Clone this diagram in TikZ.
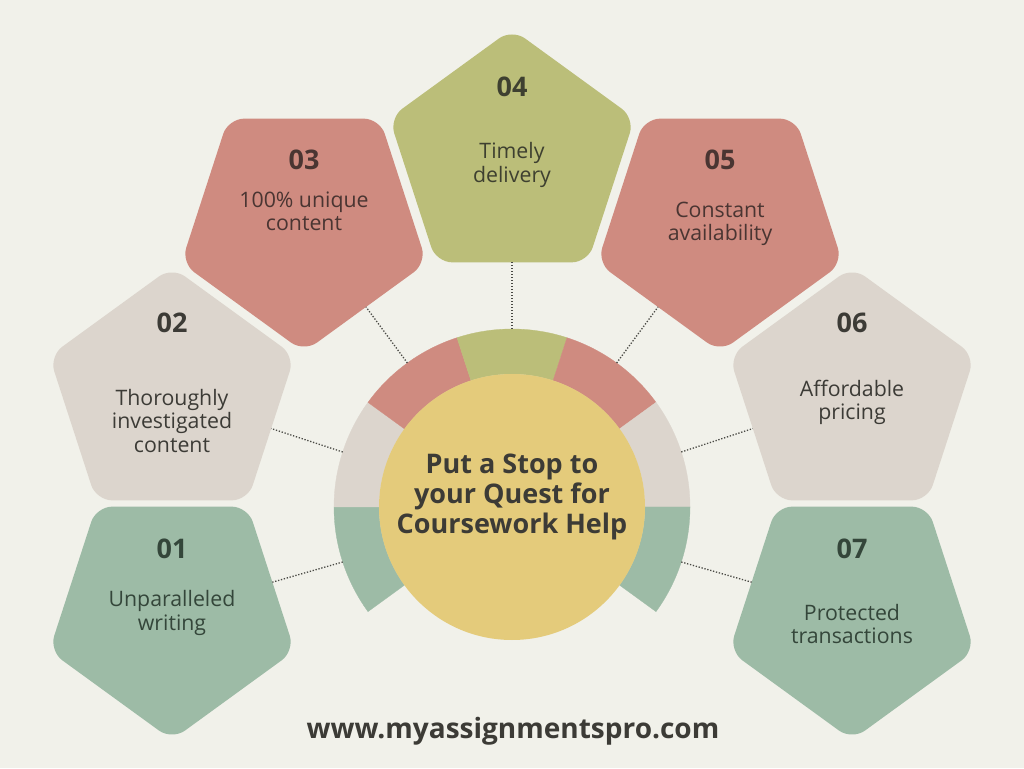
\documentclass[tikz,border=0pt]{standalone}
\usepackage{fontspec}
\setmainfont{Open Sans}
\usetikzlibrary{shapes.geometric,calc}
\definecolor{bg}{HTML}{F1F1EA}
\definecolor{sage}{HTML}{9DBBA6}
\definecolor{beige}{HTML}{DCD5CD}
\definecolor{salmon}{HTML}{CF8B80}
\definecolor{olive}{HTML}{BBBE79}
\definecolor{ylw}{HTML}{E4CB7B}
\definecolor{txt}{HTML}{3C3B36}
\definecolor{txtg}{HTML}{34463A}
\definecolor{txtr}{HTML}{4A3532}
\definecolor{txto}{HTML}{3E4030}
\definecolor{dotc}{HTML}{4A4A45}
\begin{document}
\begin{tikzpicture}[x=1pt,y=1pt,
  pent/.style={regular polygon, regular polygon sides=5, minimum size=258pt,
    inner sep=0pt, outer sep=0pt, rounded corners=16pt},
  inv/.style={shape border rotate=180},
  num/.style={font=\fontsize{27}{30}\selectfont\bfseries},
  lbl/.style={align=center, font=\fontsize{21.3}{23.5}\selectfont},
  conn/.style={draw=dotc, line width=1.3pt, dash pattern=on 1.3pt off 1.7pt}]
\useasboundingbox (0,0) rectangle (1024,768);
\fill[bg] (0,0) rectangle (1024,768);
\coordinate (c0) at (512,261);
% ring
\foreach \a/\c in {216/sage,180/beige,144/salmon,108/olive,72/salmon,36/beige,0/sage}{
  \pgfmathsetmacro\b{\a-36}
  \fill[\c, draw=\c, line width=0.3pt] ($(c0)+(\a:178)$) arc[start angle=\a, end angle=\b, radius=178]
    -- ($(c0)+(\b:133)$) arc[start angle=\b, end angle=\a, radius=133] -- cycle;
}
\node[circle, fill=ylw, minimum size=266pt, inner sep=0pt] (C) at (c0) {};
\node[num, align=center, font=\fontsize{27}{30}\selectfont\bfseries, text=txt] (title) at (512,271)
  {Put a Stop to\\your Quest for\\Coursework Help};
% pentagons
\node[pent, inv, fill=sage]   (p1) at (172,157) {};
\node[pent, fill=beige]       (p2) at (172,372) {};
\node[pent, inv, fill=salmon] (p3) at (304,545) {};
\node[pent, fill=olive]       (p4) at (512,610) {};
\node[pent, inv, fill=salmon] (p5) at (720,545) {};
\node[pent, fill=beige]       (p6) at (852,372) {};
\node[pent, inv, fill=sage]   (p7) at (852,157) {};
% connectors
\foreach \i/\a in {1/198,2/162,3/126,4/90,5/54,6/18,7/-18}{
  \coordinate (r\i) at ($(c0)+(\a:178)$);
  \draw[conn] (r\i) -- (p\i);
}
% numbers
\node[num, text=txtg] (n1) at (172,219) {01};
\node[num, text=txt]  (n2) at (172,445) {02};
\node[num, text=txtr] (n3) at (304,608) {03};
\node[num, text=txto] (n4) at (512,681) {04};
\node[num, text=txtr] (n5) at (720,608) {05};
\node[num, text=txt]  (n6) at (852,445) {06};
\node[num, text=txtg] (n7) at (852,219) {07};
% labels
\node[lbl, text=txtg] (l1) at (172,155) {Unparalleled\\writing};
\node[lbl, text=txt]  (l2) at (172,347) {Thoroughly\\investigated\\content};
\node[lbl, text=txtr] (l3) at (304,556.5) {100\% unique\\content};
\node[lbl, text=txto] (l4) at (512,603) {Timely\\delivery};
\node[lbl, text=txtr] (l5) at (720,544) {Constant\\availability};
\node[lbl, text=txt]  (l6) at (852,365.5) {Affordable\\pricing};
\node[lbl, text=txtg] (l7) at (852,144) {Protected\\transactions};
% url
\node[anchor=base, text=txt, font=\fontsize{28}{30}\selectfont\bfseries] (url) at (513,30) {www.myassignmentspro.com};
\end{tikzpicture}
\end{document}
